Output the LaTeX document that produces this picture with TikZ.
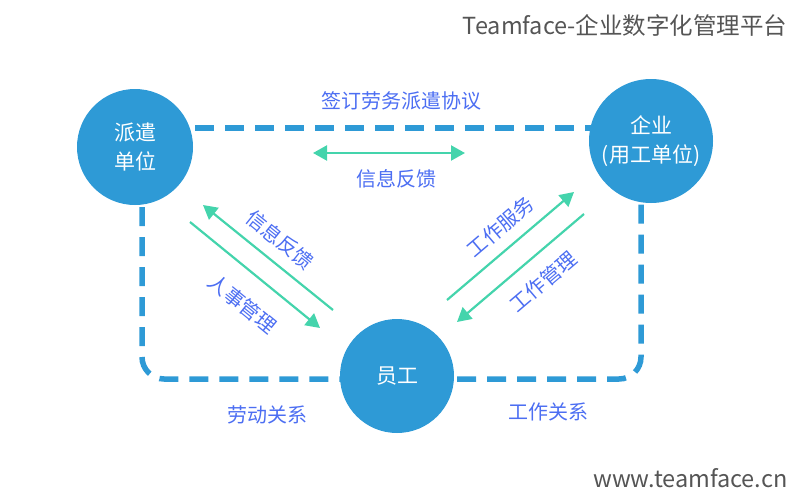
\documentclass[tikz,border=0pt]{standalone}
\usepackage{fontspec}
\setmainfont{Noto Sans CJK SC}
\usetikzlibrary{arrows.meta,backgrounds}
\definecolor{circblue}{HTML}{2E9AD6}
\definecolor{flowgreen}{HTML}{44D4AC}
\definecolor{lblblue}{HTML}{4C6EF2}
\definecolor{markgray}{HTML}{555555}

\begin{document}
\begin{tikzpicture}[x=1pt,y=-1pt,>={Triangle[length=14pt,width=15pt]},
 party/.style={circle,fill=circblue,inner sep=0pt,text=white,align=center,font=\fontsize{21}{29}\selectfont},
 lbl/.style={text=lblblue,inner sep=0pt,font=\fontsize{20}{22}\selectfont},
 link/.style={circblue,line width=5.5pt,dash pattern=on 19pt off 11pt},
 flow/.style={flowgreen,line width=2.2pt}]
\newcommand{\FLarrow}[3]{\draw[flow,->] (#1-a) -- node[lbl,sloped,#3] {#2} (#1-b);}
\useasboundingbox (0,0) rectangle (803,493);
\node[anchor=east,text=markgray,font=\fontsize{23.5}{26}\selectfont] (brand) at (791,25) {Teamface-企业数字化管理平台};
\node[anchor=east,text=markgray,font=\fontsize{23.5}{26}\selectfont] (site) at (791,478) {www.teamface.cn};
% parties
\node[party,minimum size=116pt] (paiqian) at (135,147) {派遣\\单位};
\node[party,minimum size=124pt] (qiye) at (651,141) {企业\\(用工单位)};
\node[party,minimum size=114pt] (yuangong) at (397,376) {员工};
\coordinate (topline) at (0,128);
\coordinate (lbend) at (142,379);\coordinate (rbend) at (641,379);
\begin{scope}[on background layer]
\draw[link] (paiqian.center |- topline) -- node[lbl,pos=.517,above=15pt] {签订劳务派遣协议} (qiye.center |- topline);
\draw[link,rounded corners=22pt] (paiqian.center -| lbend) -- (lbend) -- (yuangong.center |- lbend);
\draw[link,rounded corners=22pt] (yuangong.center |- rbend) -- (rbend) -- (qiye.center -| rbend);
\end{scope}
\node[lbl] (laodong) at (267,415) {劳动关系};
\node[lbl] (gongzuo) at (548,412) {工作关系};
% flows
\coordinate (fbM-a) at (313,153);\coordinate (fbM-b) at (465,153);
\coordinate (fbL-a) at (333,310);\coordinate (fbL-b) at (203,205);
\coordinate (hrL-a) at (190,222);\coordinate (hrL-b) at (320,328);
\coordinate (svR-a) at (447,300);\coordinate (svR-b) at (574,192);
\coordinate (mgR-a) at (584,214);\coordinate (mgR-b) at (457,322);
\draw[flow,<->] (fbM-a) -- node[lbl,pos=.55,below=15pt] {信息反馈} (fbM-b);
\FLarrow{fbL}{信息反馈}{pos=.51,above=11pt}
\FLarrow{hrL}{人事管理}{pos=.55,below=20pt}
\FLarrow{svR}{工作服务}{pos=.53,above=11pt}
\FLarrow{mgR}{工作管理}{pos=.45,below=15pt}
\end{tikzpicture}
\end{document}
